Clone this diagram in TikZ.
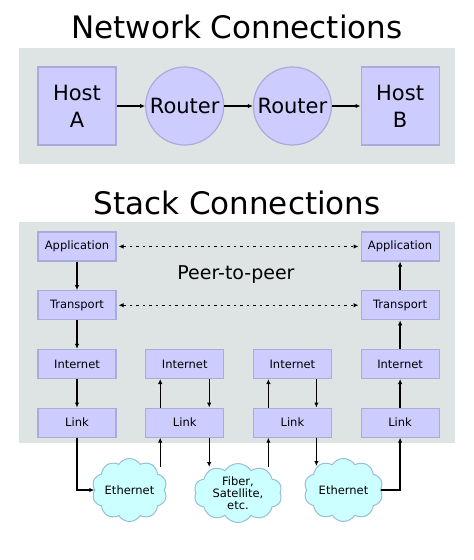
\documentclass[tikz,border=0pt]{standalone}
\usepackage{fontspec}
\setmainfont{DejaVu Sans}
\usetikzlibrary{arrows.meta,calc,positioning,shapes.symbols}
\definecolor{panel}{RGB}{222,227,227}
\definecolor{boxfill}{RGB}{204,204,255}
\definecolor{boxline}{RGB}{170,170,220}
\definecolor{cloudfill}{RGB}{204,255,255}
\definecolor{cloudline}{RGB}{150,190,215}
\tikzset{>={Latex[length=5pt,width=4.5pt]}}
\tikzstyle{title} = [font=\fontsize{31}{36}\selectfont, anchor=base]
\tikzstyle{hostbox} = [rectangle, draw=boxline, fill=boxfill, line width=1.2pt, minimum width=78pt, minimum height=78pt, align=center, font=\fontsize{21}{27}\selectfont]
\tikzstyle{router} = [circle, draw=boxline, fill=boxfill, line width=1.2pt, minimum size=78pt, inner sep=0pt, font=\fontsize{21}{27}\selectfont]
\tikzstyle{layer} = [rectangle, draw=boxline, fill=boxfill, line width=1.2pt, minimum width=78pt, minimum height=29pt, font=\fontsize{11.5}{13}\selectfont]
\tikzstyle{net} = [cloud, cloud puffs=10, cloud puff arc=115, cloud ignores aspect, draw=cloudline, fill=cloudfill, line width=1pt, inner sep=0pt, align=center, font=\fontsize{11.5}{12}\selectfont]
\tikzstyle{arrow} = [line width=1.3pt,->]
\tikzstyle{peer} = [line width=1.3pt,<->,dash pattern=on 2.5pt off 4pt, shorten <=2pt, shorten >=2pt]

\begin{document}
\begin{tikzpicture}[x=1pt, y=1pt, node distance=28.5pt]
\useasboundingbox (0,0) rectangle (474,-560);

% network view
\node (nettitle) [title] at (237,-38.5) {Network Connections};
\fill [panel] (19,-48) rectangle (455,-164);

\node (hostA) [hostbox] at (77,-106) {Host\\A};
\node (router1) [router, right=of hostA] {Router};
\node (router2) [router, right=of router1] {Router};
\node (hostB) [hostbox, right=of router2] {Host\\B};

\draw [arrow] (hostA)--(router1);
\draw [arrow] (router1)--(router2);
\draw [arrow] (router2)--(hostB);

% stack view
\node (stacktitle) [title] at (237,-214) {Stack Connections};
\fill [panel] (19,-222) rectangle (455,-443);

\node (app1) [layer] at (77,-246.5) {Application};
\node (trans1) [layer, below=of app1] {Transport};
\node (inet1) [layer, below=of trans1] {Internet};
\node (link1) [layer, below=of inet1] {Link};

\node (inet2) [layer, right=of inet1] {Internet};
\node (link2) [layer, below=of inet2] {Link};

\node (inet3) [layer, right=of inet2] {Internet};
\node (link3) [layer, below=of inet3] {Link};

\node (inet4) [layer, right=of inet3] {Internet};
\node (link4) [layer, below=of inet4] {Link};
\node (trans4) [layer, above=of inet4] {Transport};
\node (app4) [layer, above=of trans4] {Application};

\node (p2p) [font=\fontsize{19}{23}\selectfont] at (236,-275) {Peer-to-peer};

\node (eth1) [net, minimum width=75pt, minimum height=63pt] at (129.5,-490) {Ethernet};
\node (fiber) [net, minimum width=88pt, minimum height=59pt] at (238,-493) {Fiber,\\Satellite,\\etc.};
\node (eth2) [net, minimum width=79pt, minimum height=63pt] at (343.5,-490) {Ethernet};

\draw [peer] (app1)--(app4);
\draw [peer] (trans1)--(trans4);

\draw [arrow] (app1)--(trans1);
\draw [arrow] (trans1)--(inet1);
\draw [arrow] (inet1)--(link1);
\draw [arrow] (link1.south) |- (eth1.west);

\draw [arrow] ($(link2.south |- eth1.center)+(-24.5,23)$) -- ([xshift=-24.5pt]link2.south);
\draw [arrow] ([xshift=-24.5pt]link2.north) -- ([xshift=-24.5pt]inet2.south);
\draw [arrow] ([xshift=24.5pt]inet2.south) -- ([xshift=24.5pt]link2.north);
\draw [arrow] ([xshift=24.5pt]link2.south) -- ($(link2.south |- fiber.center)+(24.5,26)$);

\draw [arrow] ($(link3.south |- fiber.center)+(-24,26)$) -- ([xshift=-24pt]link3.south);
\draw [arrow] ([xshift=-24pt]link3.north) -- ([xshift=-24pt]inet3.south);
\draw [arrow] ([xshift=24pt]inet3.south) -- ([xshift=24pt]link3.north);
\draw [arrow] ([xshift=24pt]link3.south) -- ($(link3.south |- eth2.center)+(24,24)$);

\draw [arrow] (eth2.east) -| (link4.south);
\draw [arrow] (link4)--(inet4);
\draw [arrow] (inet4)--(trans4);
\draw [arrow] (trans4)--(app4);

\end{tikzpicture}
\end{document}
